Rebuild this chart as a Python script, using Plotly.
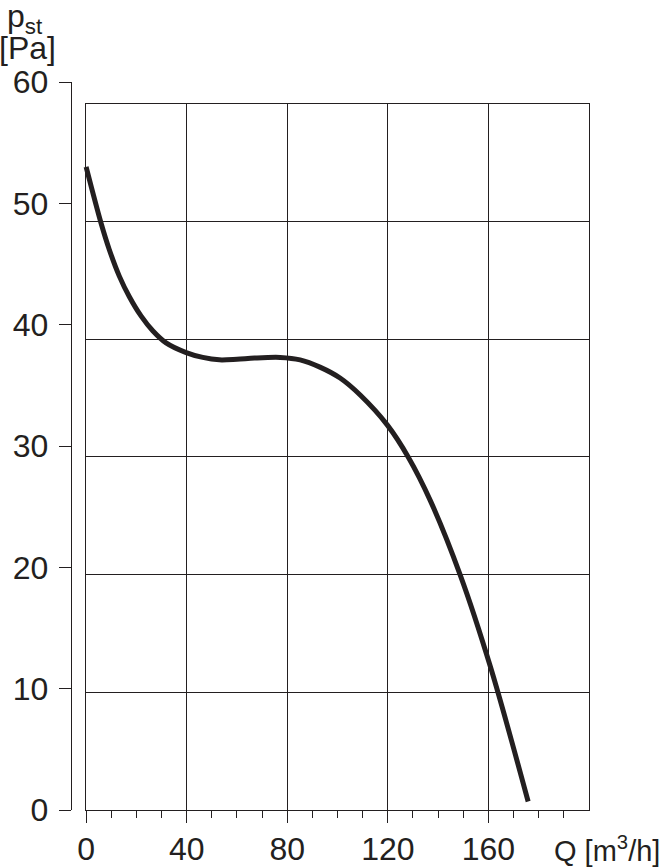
import plotly.graph_objects as go

# Curve data (Q in m3/h, p_st in Pa)
q_vals = [0, 5.9, 9.2, 13.2, 17.2, 21.9, 26.5, 31.8, 39.8, 46.4, 53.0, 60.0,
          67.0, 77.2, 85.1, 93.0, 101.0, 109.0, 119.9, 128.2, 136.9,
          148.8, 160.8, 175.8]
p_vals = [53.0, 48.4, 46.2, 44.0, 42.3, 40.7, 39.5, 38.5, 37.7, 37.3, 37.1, 37.15,
          37.25, 37.3, 37.1, 36.5, 35.6, 34.2, 31.7, 29.06, 25.5,
          19.36, 11.8, 0.7]

x_major_ticks = [0, 40, 80, 120, 160]
x_minor_ticks = [10, 20, 30, 50, 60, 70, 90, 100, 110, 130, 140, 150, 170, 180, 190]
y_ticks = [0, 10, 20, 30, 40, 50, 60]

INK = "#231f20"
FONT = "Liberation Sans, Arial, Helvetica, sans-serif"
FS = 32

fig = go.Figure()
# grid subplot placeholder (drawn first)
fig.add_trace(go.Scatter(x=[None], y=[None], xaxis="x2", yaxis="y2",
                         mode="lines", showlegend=False, hoverinfo="skip"))
fig.add_trace(go.Scatter(
    x=q_vals, y=p_vals, mode="lines",
    line=dict(color=INK, width=5, shape="spline", smoothing=0.9),
    xaxis="x", yaxis="y", hoverinfo="skip", showlegend=False,
))

fig.update_layout(
    width=668, height=868,
    margin=dict(l=72, r=79, t=82, b=58, autoexpand=False),
    paper_bgcolor="white", plot_bgcolor="rgba(0,0,0,0)",
    font=dict(family=FONT, size=FS, color=INK),
    showlegend=False,
    xaxis=dict(
        domain=[0, 1], range=[-5.61, 200], showgrid=False, zeroline=False,
        showline=False, tickmode="array", tickvals=x_major_ticks,
        ticks="outside", ticklen=12, tickwidth=1.4, tickcolor=INK,
        ticklabelstandoff=-1, automargin=False,
        tickfont=dict(family=FONT, size=FS, color=INK),
        minor=dict(tickmode="array", tickvals=x_minor_ticks, ticks="outside",
                   ticklen=7, tickwidth=1.2, tickcolor=INK, showgrid=False),
        anchor="y", fixedrange=True,
    ),
    yaxis=dict(
        domain=[0, 1], range=[0, 60], showgrid=False, zeroline=False,
        showline=True, linecolor=INK, linewidth=1.4,
        tickmode="array", tickvals=y_ticks,
        ticks="outside", ticklen=12, tickwidth=1.4, tickcolor=INK,
        ticklabelstandoff=4, automargin=False,
        tickfont=dict(family=FONT, size=FS, color=INK),
        anchor="x", fixedrange=True,
    ),
    xaxis2=dict(
        domain=[0.0273, 1], range=[0, 200], dtick=40, tick0=0,
        showgrid=True, gridcolor=INK, gridwidth=1.4, zeroline=False,
        showline=True, mirror=True, linecolor=INK, linewidth=1.4,
        showticklabels=False, ticks="", anchor="y2", fixedrange=True,
        automargin=False,
    ),
    yaxis2=dict(
        domain=[0, 0.9698], range=[0, 6], dtick=1, tick0=0,
        showgrid=True, gridcolor=INK, gridwidth=1.4, zeroline=False,
        showline=True, mirror=True, linecolor=INK, linewidth=1.4,
        showticklabels=False, ticks="", anchor="x2", fixedrange=True,
        automargin=False,
    ),
)

fig.add_annotation(text="p<sub>st</sub>", xref="paper", yref="paper",
                   x=-0.129, y=1.087, xanchor="left", yanchor="middle",
                   showarrow=False, font=dict(family=FONT, size=FS, color=INK))
fig.add_annotation(text="[Pa]", xref="paper", yref="paper",
                   x=-0.145, y=1.0467, xanchor="left", yanchor="middle",
                   showarrow=False, font=dict(family=FONT, size=FS, color=INK))
fig.add_annotation(text="Q [m<sup>3</sup>/h]", xref="paper", yref="paper",
                   x=0.928, y=-0.0536, xanchor="left", yanchor="middle",
                   showarrow=False, font=dict(family=FONT, size=29, color=INK))

fig.write_html("out.html", config={"displayModeBar": False},
               post_script="document.body.style.margin='0';")
